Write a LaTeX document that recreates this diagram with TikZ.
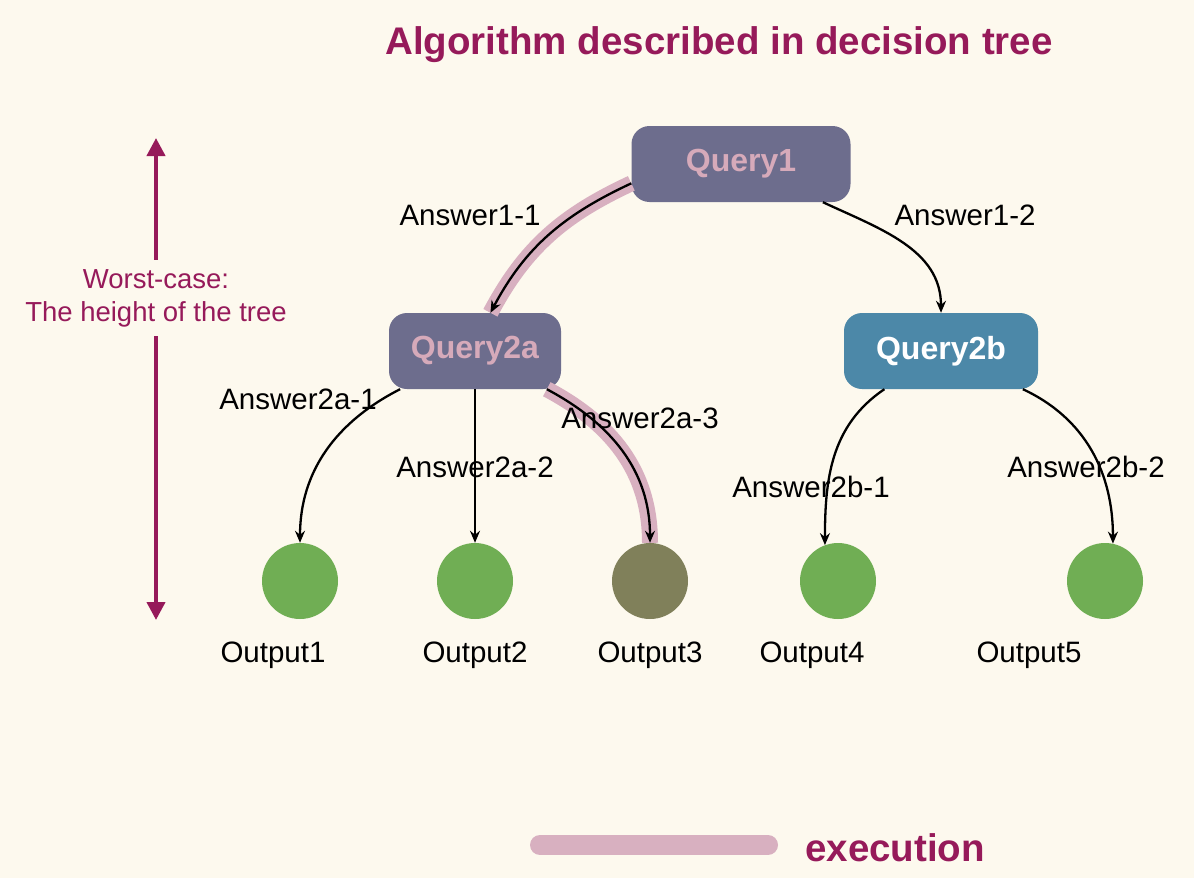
\documentclass[tikz,border=0pt]{standalone}
\usepackage{fontspec}
\setmainfont{Liberation Sans}
\usetikzlibrary{arrows.meta}
\definecolor{bgcream}{RGB}{253,249,238}
\definecolor{titlepurple}{RGB}{150,26,90}
\definecolor{qpurple}{RGB}{109,109,141}
\definecolor{qtext}{RGB}{214,170,186}
\definecolor{qblue}{RGB}{76,136,168}
\definecolor{leafgreen}{RGB}{112,174,84}
\definecolor{leafolive}{RGB}{128,128,90}
\definecolor{execpink}{RGB}{216,176,192}

\begin{document}
\begin{tikzpicture}[x=1pt, y=1pt, >={Stealth[length=12pt,width=10pt]},
    query/.style={rounded corners=18pt, minimum height=76pt, inner sep=0pt, font=\bfseries\fontsize{32}{36}\selectfont},
    leaf/.style={circle, minimum size=76pt, inner sep=0pt, fill=leafgreen},
    answer/.style={font=\fontsize{29.5}{34}\selectfont},
    edge/.style={->, line width=2.3pt},
    band/.style={line width=16pt, execpink}]
    \fill[bgcream] (0,0) rectangle (1194,-878);
    \useasboundingbox (0,0) rectangle (1194,-878);

    \node[font=\bfseries\fontsize{38.5}{44}\selectfont, text=titlepurple] (title) at (719,-45) {Algorithm described in decision tree};

    % tree
    \node[query, fill=qpurple, text=qtext, minimum width=219pt] (q1) at (741,-164) {Query1};
    \node[query, fill=qpurple, text=qtext, minimum width=172pt] (q2a) at (475,-351) {Query2a};
    \node[query, fill=qblue, text=white, minimum width=194pt] (q2b) at (941,-351) {Query2b};

    \node[leaf] (o1) at (300,-581) {};
    \node[leaf] (o2) at (475,-581) {};
    \node[leaf, fill=leafolive] (o3) at (650,-581) {};
    \node[leaf] (o4) at (838,-581) {};
    \node[leaf] (o5) at (1105,-581) {};

    % execution path
    \draw[band] (q1.190) to[out=205, in=62] (q2a.68);
    \draw[band] (q2a) to[out=-28, in=90] (o3);

    \draw[edge] (q1.190) to[out=205, in=62] (q2a.68);
    \draw[edge] (q1) to[out=-25, in=90] (q2b);
    \draw[edge] (q2a) to[out=207, in=90] (o1);
    \draw[edge] (q2a) -- (o2);
    \draw[edge] (q2a) to[out=-28, in=90] (o3);
    \draw[edge] (q2b) to[out=214, in=90] (o4.110);
    \draw[edge] (q2b) to[out=-25, in=90] (o5.78);

    \node[answer] at (470,-215) {Answer1-1};
    \node[answer] at (965,-215) {Answer1-2};
    \node[answer] at (298,-399) {Answer2a-1};
    \node[answer] at (475,-467) {Answer2a-2};
    \node[answer] at (640,-418) {Answer2a-3};
    \node[answer] at (811,-487) {Answer2b-1};
    \node[answer] at (1086,-467) {Answer2b-2};

    \node[answer] at (273,-655) {Output1};
    \node[answer] at (475,-655) {Output2};
    \node[answer] at (650,-655) {Output3};
    \node[answer] at (812,-655) {Output4};
    \node[answer] at (1029,-655) {Output5};

    % worst case height
    \node[align=center, text=titlepurple, inner xsep=0pt, inner ysep=9pt, font=\fontsize{27.5}{33}\selectfont] (wc) at (156,-298) {Worst-case:\\The height of the tree};
    \coordinate (wctop) at (156,-138);
    \coordinate (wcbot) at (156,-620);
    \draw[-{Triangle[length=18pt,width=18pt]}, line width=4pt, titlepurple] (wc.north) -- (wctop);
    \draw[-{Triangle[length=18pt,width=18pt]}, line width=4pt, titlepurple] (wc.south) -- (wcbot);

    % legend
    \coordinate (exstart) at (540,-845);
    \coordinate (exend) at (768,-845);
    \draw[line width=20pt, line cap=round, execpink] (exstart) -- (exend);
    \node[anchor=west, inner sep=0pt, text=titlepurple, font=\bfseries\fontsize{38.5}{44}\selectfont] (exec) at (805,-848) {execution};
\end{tikzpicture}
\end{document}
